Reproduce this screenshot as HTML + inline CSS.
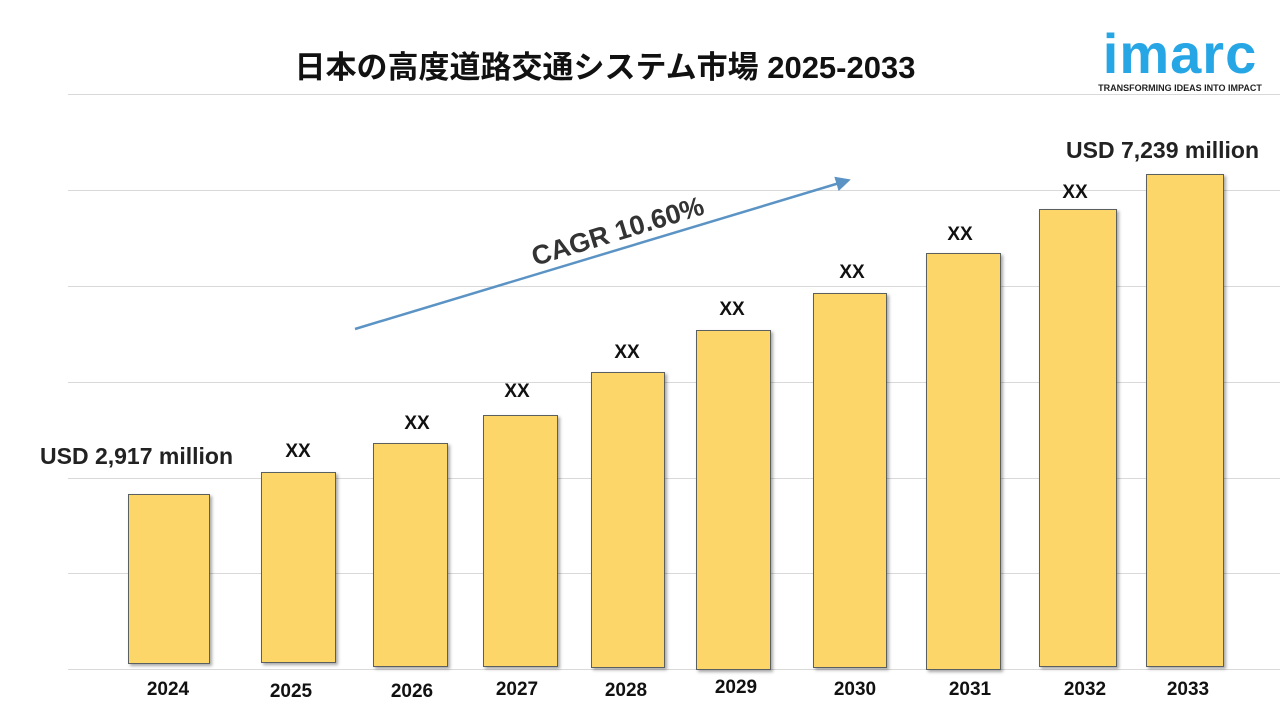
<!DOCTYPE html>
<html><head><meta charset="utf-8"><style>
body{margin:0;width:1280px;height:720px;background:#fff;overflow:hidden;position:relative;font-family:"Liberation Sans","Noto Sans CJK JP",sans-serif}
.g{position:absolute;left:68px;right:0;height:1px;background:#d9d9d9}
.b{position:absolute;background:#fcd669;border:1px solid #5a5f5f;box-sizing:border-box;box-shadow:2px 2px 3px rgba(0,0,0,0.35)}
.t{position:absolute;font-weight:bold;font-size:19px;color:#111;text-align:center;width:100px}
.y{position:absolute;font-weight:bold;font-size:19px;color:#111;text-align:center;width:100px;top:679px}
</style></head><body>
<div style="position:absolute;left:0;width:1210px;top:42px;text-align:center;font-size:31px;font-weight:bold;color:#111">日本の高度道路交通システム市場 2025-2033</div>
<div style="position:absolute;left:1091px;top:24px;width:178px;text-align:center;font-size:56px;font-weight:bold;color:#27a6e5;line-height:60px;letter-spacing:1px">imarc</div>
<div style="position:absolute;left:1088px;top:83px;width:184px;text-align:center;font-size:9px;font-weight:bold;color:#222">TRANSFORMING IDEAS INTO IMPACT</div>
<div class="g" style="top:94px"></div><div class="g" style="top:190px"></div><div class="g" style="top:286px"></div><div class="g" style="top:382px"></div><div class="g" style="top:478px"></div><div class="g" style="top:573px"></div><div class="g" style="top:669px"></div>
<div class="b" style="left:128px;width:82px;top:494px;height:170px"></div>
<div class="b" style="left:261px;width:75px;top:472px;height:191px"></div>
<div class="b" style="left:373px;width:75px;top:443px;height:224px"></div>
<div class="b" style="left:483px;width:75px;top:415px;height:252px"></div>
<div class="b" style="left:591px;width:74px;top:372px;height:296px"></div>
<div class="b" style="left:696px;width:75px;top:330px;height:340px"></div>
<div class="b" style="left:813px;width:74px;top:293px;height:375px"></div>
<div class="b" style="left:926px;width:75px;top:253px;height:417px"></div>
<div class="b" style="left:1039px;width:78px;top:209px;height:458px"></div>
<div class="b" style="left:1146px;width:78px;top:174px;height:493px"></div>
<div style="position:absolute;left:40px;top:443px;font-size:23px;font-weight:bold;color:#222">USD 2,917 million</div>
<div style="position:absolute;left:1066px;top:137px;font-size:23px;font-weight:bold;color:#222;white-space:nowrap">USD 7,239 million</div>
<div class="t" style="left:248px;top:441px">XX</div>
<div class="t" style="left:367px;top:413px">XX</div>
<div class="t" style="left:467px;top:381px">XX</div>
<div class="t" style="left:577px;top:342px">XX</div>
<div class="t" style="left:682px;top:299px">XX</div>
<div class="t" style="left:802px;top:262px">XX</div>
<div class="t" style="left:910px;top:224px">XX</div>
<div class="t" style="left:1025px;top:182px">XX</div>
<div class="y" style="left:118px">2024</div><div class="y" style="left:241px;top:681px">2025</div><div class="y" style="left:362px;top:681px">2026</div><div class="y" style="left:467px">2027</div><div class="y" style="left:576px;top:680px">2028</div><div class="y" style="left:686px;top:677px">2029</div><div class="y" style="left:805px">2030</div><div class="y" style="left:920px">2031</div><div class="y" style="left:1035px">2032</div><div class="y" style="left:1138px">2033</div>
<svg style="position:absolute;left:0;top:0" width="1280" height="720">
<defs><marker id="a" markerWidth="6" markerHeight="6" refX="4" refY="3" orient="auto"><path d="M0,0 L6,3 L0,6 z" fill="#5b94c4"/></marker></defs>
<line x1="355" y1="329" x2="846" y2="181" stroke="#5b94c4" stroke-width="2.5" marker-end="url(#a)"/>
<text x="0" y="0" transform="translate(535,266) rotate(-17)" font-family="Liberation Sans, sans-serif" font-size="27" font-weight="bold" fill="#333">CAGR 10.60%</text>
</svg>
</body></html>
